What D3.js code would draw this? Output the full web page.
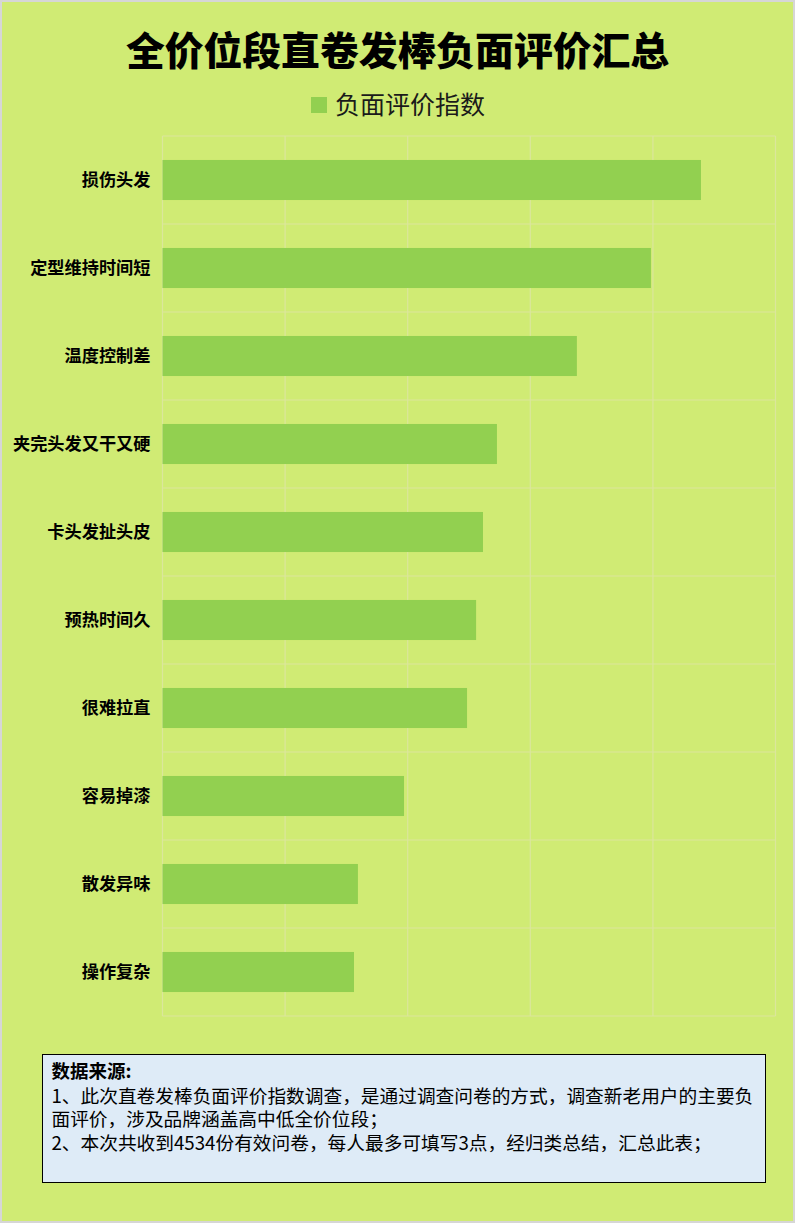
<!DOCTYPE html>
<html>
<head>
<meta charset="utf-8">
<script src="https://cdn.jsdelivr.net/npm/d3@7"></script>
<style>
  body { margin: 0; background: #d0eb74; }
  svg { display: block; font-family: "Noto Sans CJK SC", "Noto Sans", sans-serif; }
</style>
</head>
<body>
<div id="chart-area"></div>
<script>
const categories = ["损伤头发", "定型维持时间短", "温度控制差", "夹完头发又干又硬", "卡头发扯头皮",
                    "预热时间久", "很难拉直", "容易掉漆", "散发异味", "操作复杂"];
const values = [2196, 1992, 1690, 1364, 1307, 1279, 1242, 985, 797, 781];
const xTicks = [0, 500, 1000, 1500, 2000, 2500];
const seriesName = "负面评价指数";
const title = "全价位段直卷发棒负面评价汇总";
const noteTitle = "数据来源:";
const noteLines = [
  "1、此次直卷发棒负面评价指数调查，是通过调查问卷的方式，调查新老用户的主要负",
  "面评价，涉及品牌涵盖高中低全价位段；",
  "2、本次共收到4534份有效问卷，每人最多可填写3点，经归类总结，汇总此表；"
];

const width = 795;
const height = 1223;
const margin = { top: 136, left: 162.5, right: 19.5, bottom: 207 };
const plotWidth = width - margin.left - margin.right;
const plotHeight = height - margin.top - margin.bottom;

const svg = d3.select("#chart-area")
              .append("svg")
              .attr("width", width)
              .attr("height", height);

// background with thin grey frame
svg.append("rect")
   .attr("x", 1).attr("y", 1)
   .attr("width", width - 2).attr("height", height - 2)
   .attr("fill", "#d0eb74")
   .attr("stroke", "#d6d6d6")
   .attr("stroke-width", 2);

svg.append("text")
   .attr("x", width / 2)
   .attr("y", 65)
   .attr("text-anchor", "middle")
   .attr("font-size", 38.8)
   .attr("font-weight", 900)
   .attr("fill", "#000")
   .text(title);

// legend
const legend = svg.append("g").attr("transform", "translate(311, 97)");
legend.append("rect").attr("width", 16).attr("height", 16).attr("fill", "#92d050");
legend.append("text")
      .attr("x", 24).attr("y", 8)
      .attr("dy", "0.36em")
      .attr("font-size", 25)
      .attr("fill", "#1a1a1a")
      .text(seriesName);

const xScale = d3.scaleLinear()
                 .domain([0, xTicks[xTicks.length - 1]])
                 .range([0, plotWidth]);

const yScale = d3.scaleBand()
                 .domain(categories)
                 .range([0, plotHeight])
                 .paddingInner(0.545)
                 .paddingOuter(0.2725);

const plot = svg.append("g")
                .attr("transform", "translate(" + margin.left + ", " + margin.top + ")");

const gridColor = "#dbe69c";

// vertical grid
plot.append("g")
    .selectAll("line")
    .data(xTicks)
    .enter()
    .append("line")
    .attr("x1", d => xScale(d)).attr("x2", d => xScale(d))
    .attr("y1", 0).attr("y2", plotHeight)
    .attr("stroke", gridColor)
    .attr("stroke-width", 1.2);

// horizontal grid at category boundaries
const bounds = categories.map(c => yScale(c) - yScale.step() * yScale.paddingInner() / 2);
bounds.push(plotHeight);
plot.append("g")
    .selectAll("line")
    .data(bounds)
    .enter()
    .append("line")
    .attr("x1", 0).attr("x2", plotWidth)
    .attr("y1", d => d).attr("y2", d => d)
    .attr("stroke", gridColor)
    .attr("stroke-width", 1.2);

plot.append("g")
    .selectAll("rect")
    .data(values)
    .enter()
    .append("rect")
    .attr("x", 0)
    .attr("y", (d, i) => yScale(categories[i]))
    .attr("width", d => xScale(d))
    .attr("height", yScale.bandwidth())
    .attr("fill", "#92d050");

// category labels
const axisY = d3.axisLeft(yScale).tickSize(0).tickPadding(12);
const yAxis = plot.append("g").call(axisY);
yAxis.select(".domain").remove();
yAxis.selectAll("text")
     .attr("font-size", 17.2)
     .attr("font-weight", 700)
     .attr("fill", "#000")
     .style("font-family", "'Noto Sans CJK SC', sans-serif");

// note box
const note = svg.append("g").attr("transform", "translate(42.5, 1054.5)");
note.append("rect")
    .attr("width", 723)
    .attr("height", 128)
    .attr("fill", "#deebf7")
    .attr("stroke", "#000")
    .attr("stroke-width", 1);

note.append("text")
    .attr("x", 9).attr("y", 23)
    .attr("font-size", 18.5)
    .attr("font-weight", 700)
    .attr("fill", "#000")
    .text(noteTitle);

note.selectAll("text.line")
    .data(noteLines)
    .enter()
    .append("text")
    .attr("class", "line")
    .attr("x", 9)
    .attr("y", (d, i) => 48 + i * 23.5)
    .attr("font-size", 18.7)
    .attr("fill", "#000")
    .text(d => d);
</script>
</body>
</html>
